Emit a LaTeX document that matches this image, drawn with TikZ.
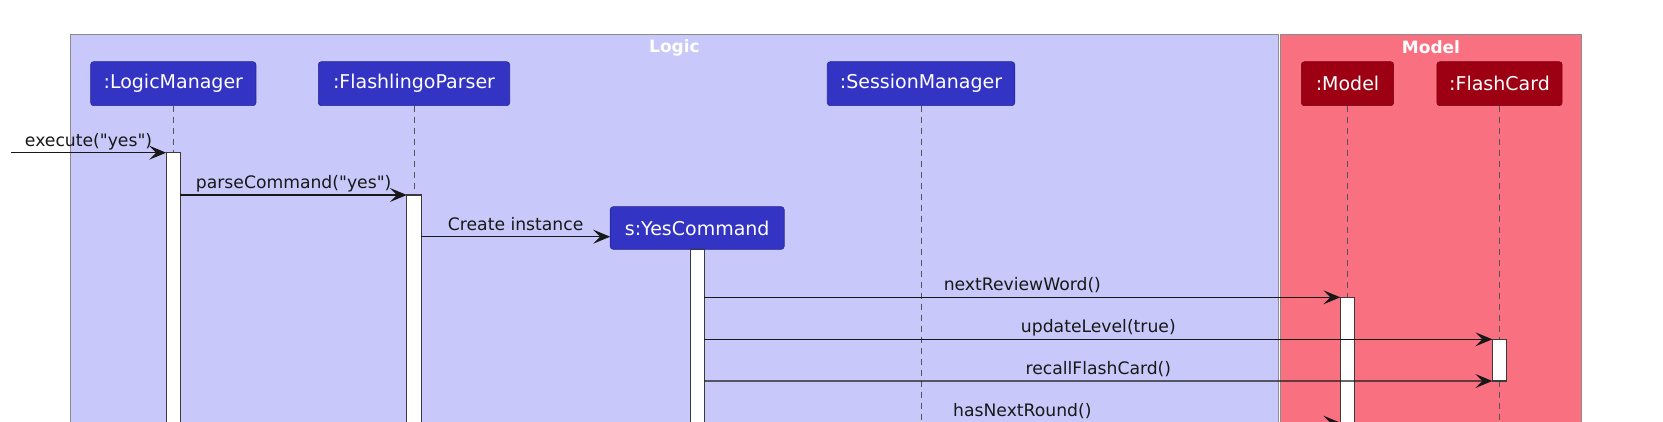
\documentclass[tikz,border=0pt]{standalone}
\usepackage{fontspec}
\setmainfont{DejaVu Sans}[Ligatures=TeXOff]
\usetikzlibrary{arrows.meta}
\definecolor{logicC}{HTML}{3333C4}
\definecolor{logicBg}{HTML}{C8C8FA}
\definecolor{modelC}{HTML}{9D0012}
\definecolor{modelBg}{HTML}{F97181}
\definecolor{lineC}{HTML}{181818}
\definecolor{frameC}{HTML}{8C8C8C}
\definecolor{lifeC}{HTML}{555555}
\begin{document}
\begin{tikzpicture}[x=1pt,y=-1pt,
  participant/.style={rounded corners=3pt, draw=#1!75!black, fill=#1, line width=0.6pt,
    text=white, font=\fontsize{19}{22}\selectfont, minimum height=44pt, inner sep=0pt,
    outer sep=0pt, anchor=north},
  actbar/.style={draw=lineC!85, fill=white, line width=1.1pt, minimum width=14.3pt,
    inner sep=0pt, outer sep=0pt, anchor=north},
  lifeline/.style={draw=lifeC, line width=0.9pt, dash pattern=on 6pt off 5pt},
  msgline/.style={draw=lineC, line width=1.3pt, -{Stealth[length=17pt,width=14pt,inset=7pt]}},
  msglabel/.style={font=\fontsize{17.2}{20}\selectfont, text=lineC, inner sep=0pt, anchor=base, yshift=6.5pt},
  frametitle/.style={font=\bfseries\fontsize{17}{20}\selectfont, text=white, inner sep=0pt},
  frame/.style={draw=frameC, line width=1pt}
]
\useasboundingbox (0,0) rectangle (1663,422);
\clip (0,0) rectangle (1663,422);
% frames
\draw[frame, fill=logicBg] (70.7,34.3) rectangle (1278.3,440);
\draw[frame, fill=modelBg] (1280.8,34.8) rectangle (1581.5,440);
\node[frametitle] (tlogic) at (674.5,47.5) {Logic};
\node[frametitle] (tmodel) at (1431,47.5) {Model};
% message levels
\coordinate (m1) at (0,152.7);
\coordinate (m2) at (0,195);
\coordinate (m3) at (0,236.7);
\coordinate (m4) at (0,297.3);
\coordinate (m5) at (0,339.3);
\coordinate (m6) at (0,381);
\coordinate (m7) at (0,422.7);
\coordinate (bot) at (0,440);
\coordinate (start) at (11,152.7);
% participants
\node[participant=logicC, minimum width=165.3pt] (lm) at (173.3,61.7) {:LogicManager};
\node[participant=logicC, minimum width=191.4pt] (fp) at (414,61.7) {:FlashlingoParser};
\node[participant=logicC, minimum width=187.5pt] (sm) at (921,61.7) {:SessionManager};
\node[participant=modelC, minimum width=92.3pt] (md) at (1347.5,61.7) {:Model};
\node[participant=modelC, minimum width=125.3pt] (fc) at (1499.5,61.7) {:FlashCard};
\node[participant=logicC, minimum width=174pt, minimum height=42.6pt] (yc) at (697.2,206.7) {s:YesCommand};
% lifelines
\draw[lifeline] (lm.south) -- (lm.south |- m1);
\draw[lifeline] (fp.south) -- (fp.south |- m2);
\draw[lifeline] (sm.south) -- (sm.south |- bot);
\draw[lifeline] (md.south) -- (md.south |- m4);
\draw[lifeline] (fc.south) -- (fc.south |- bot);
% activation bars
\node[actbar, minimum height=290pt] (lmA) at (lm.south |- m1) {};
\node[actbar, minimum height=250pt] (fpA) at (fp.south |- m2) {};
\node[actbar, minimum height=195pt] (ycA) at (yc.south) {};
\node[actbar, minimum height=145pt] (mdA) at (md.south |- m4) {};
\node[actbar, minimum height=41.7pt] (fcA) at (fc.south |- m5) {};
% messages
\draw[msgline] (start) -- (lmA.north west) node[msglabel, midway] {execute("yes")};
\draw[msgline] (lmA.east |- m2) -- (fpA.north west) node[msglabel, midway] {parseCommand("yes")};
\draw[msgline] (fpA.east |- m3) -- (yc.west |- m3) node[msglabel, midway] {Create instance};
\draw[msgline] (ycA.east |- m4) -- (mdA.north west) node[msglabel, midway] {nextReviewWord()};
\draw[msgline] (ycA.east |- m5) -- (fcA.north west) node[msglabel, midway] {updateLevel(true)};
\draw[msgline] (ycA.east |- m6) -- (fcA.south west) node[msglabel, midway] {recallFlashCard()};
\draw[msgline] (ycA.east |- m7) -- (mdA.west |- m7) node[msglabel, midway] {hasNextRound()};
\end{tikzpicture}
\end{document}
